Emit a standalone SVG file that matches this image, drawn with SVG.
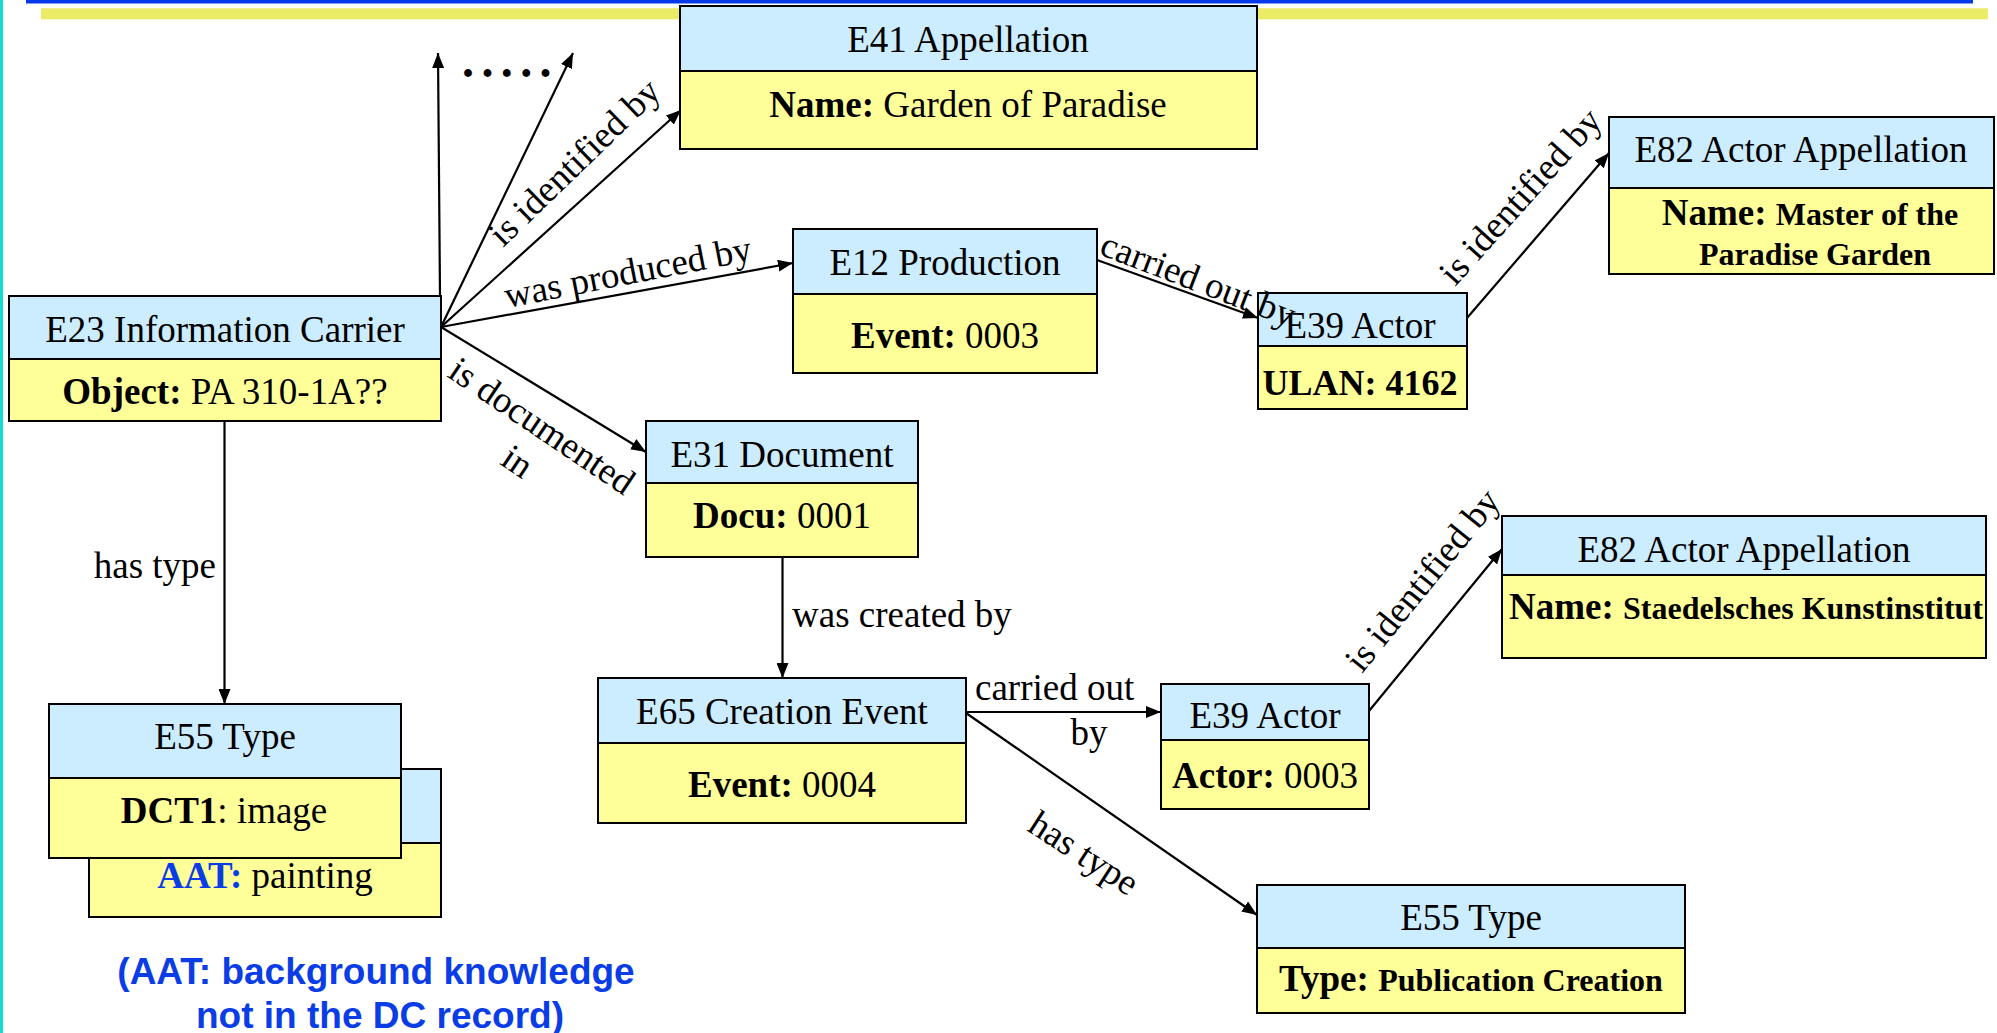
<svg xmlns="http://www.w3.org/2000/svg" width="1997" height="1033" viewBox="0 0 1997 1033">
<style>
text{font-family:"Liberation Serif","Times New Roman",serif;font-size:37px;fill:#000}
.t{text-anchor:middle}
.b{font-weight:bold}
.bs{font-weight:bold;font-size:32px}
.hd{fill:#CCECFF;stroke:#000;stroke-width:2}
.bd{fill:#FFFF99;stroke:#000;stroke-width:2}
.ln{stroke:#000;stroke-width:2.2;fill:none;marker-end:url(#ah)}
.note{font-family:"Liberation Sans",Arial,sans-serif;font-weight:bold;fill:#0B3DE6;text-anchor:middle}
.blue{fill:#0B3DE6;font-weight:bold}
</style>
<defs>
<marker id="ah" markerUnits="userSpaceOnUse" markerWidth="16" markerHeight="12" refX="15" refY="6" orient="auto">
<path d="M0,0 L15,6 L0,12 z" fill="#000"/>
</marker>
</defs>
<rect x="0" y="0" width="1997" height="1033" fill="#fff"/>
<rect x="0" y="0" width="3" height="1033" fill="#12DCCF"/>
<rect x="26" y="0" width="1947" height="3.5" fill="#0538E8"/>
<rect x="41" y="8.3" width="1947" height="11" fill="#EBEB66"/>

<g id="connectors">
<line class="ln" x1="440" y1="296" x2="438" y2="53"/>
<line class="ln" x1="441" y1="327" x2="573" y2="53"/>
<line class="ln" x1="441" y1="327" x2="681" y2="110"/>
<line class="ln" x1="441" y1="327" x2="793" y2="263"/>
<line class="ln" x1="441" y1="327" x2="646" y2="452"/>
<line class="ln" x1="224.5" y1="421" x2="224.5" y2="704"/>
<line class="ln" x1="1097" y1="260" x2="1258" y2="318"/>
<line class="ln" x1="1467" y1="318" x2="1609" y2="153"/>
<line class="ln" x1="782.5" y1="557" x2="782.5" y2="678"/>
<line class="ln" x1="966" y1="712" x2="1161" y2="712"/>
<line class="ln" x1="1369" y1="711" x2="1502" y2="549"/>
<line class="ln" x1="966" y1="713" x2="1257" y2="915"/>
</g>

<g id="e23">
<rect class="hd" x="9" y="296" width="432" height="63"/>
<rect class="bd" x="9" y="359" width="432" height="62"/>
<text class="t" x="225" y="342">E23 Information Carrier</text>
<text class="t" x="225" y="404"><tspan class="b">Object:</tspan> PA 310-1A??</text>
</g>
<g id="e41">
<rect class="hd" x="680" y="6" width="577" height="65"/>
<rect class="bd" x="680" y="71" width="577" height="78"/>
<text class="t" x="968" y="52">E41 Appellation</text>
<text class="t" x="968" y="117"><tspan class="b">Name:</tspan> Garden of Paradise</text>
</g>
<g id="e12">
<rect class="hd" x="793" y="229" width="304" height="65"/>
<rect class="bd" x="793" y="294" width="304" height="79"/>
<text class="t" x="945" y="275">E12 Production</text>
<text class="t" x="945" y="348"><tspan class="b">Event:</tspan> 0003</text>
</g>
<g id="e39a">
<rect class="hd" x="1258" y="293" width="209" height="53"/>
<rect class="bd" x="1258" y="346" width="209" height="63"/>
<text class="t" x="1360" y="338">E39 Actor</text>
<text class="t b" x="1360" y="395" style="font-size:36px">ULAN: 4162</text>
</g>
<g id="e82a">
<rect class="hd" x="1609" y="117" width="385" height="71"/>
<rect class="bd" x="1609" y="188" width="385" height="86"/>
<text class="t" x="1801" y="162">E82 Actor Appellation</text>
<text class="t" x="1810" y="225"><tspan class="b">Name:</tspan> <tspan class="bs">Master of the</tspan></text>
<text class="t bs" x="1815" y="265">Paradise Garden</text>
</g>
<g id="e31">
<rect class="hd" x="646" y="421" width="272" height="62"/>
<rect class="bd" x="646" y="483" width="272" height="74"/>
<text class="t" x="782" y="467">E31 Document</text>
<text class="t" x="782" y="528"><tspan class="b">Docu:</tspan> 0001</text>
</g>
<g id="e65">
<rect class="hd" x="598" y="678" width="368" height="65"/>
<rect class="bd" x="598" y="743" width="368" height="80"/>
<text class="t" x="782" y="724">E65 Creation Event</text>
<text class="t" x="782" y="797"><tspan class="b">Event:</tspan> 0004</text>
</g>
<g id="e39b">
<rect class="hd" x="1161" y="684" width="208" height="56"/>
<rect class="bd" x="1161" y="740" width="208" height="69"/>
<text class="t" x="1265" y="728">E39 Actor</text>
<text class="t" x="1265" y="788"><tspan class="b">Actor:</tspan> 0003</text>
</g>
<g id="e82b">
<rect class="hd" x="1502" y="516" width="484" height="59"/>
<rect class="bd" x="1502" y="575" width="484" height="83"/>
<text class="t" x="1744" y="562">E82 Actor Appellation</text>
<text class="t" x="1746" y="619"><tspan class="b">Name:</tspan> <tspan class="bs">Staedelsches Kunstinstitut</tspan></text>
</g>
<g id="e55b">
<rect class="hd" x="1257" y="885" width="428" height="63"/>
<rect class="bd" x="1257" y="948" width="428" height="65"/>
<text class="t" x="1471" y="930">E55 Type</text>
<text class="t" x="1471" y="991"><tspan class="b">Type:</tspan> <tspan class="bs">Publication Creation</tspan></text>
</g>
<g id="e55-aat">
<rect class="hd" x="89" y="769" width="352" height="74"/>
<rect class="bd" x="89" y="843" width="352" height="74"/>
<text class="t" x="265" y="888"><tspan class="blue">AAT:</tspan> painting</text>
</g>
<g id="e55-dct">
<rect class="hd" x="49" y="704" width="352" height="74"/>
<rect class="bd" x="49" y="778" width="352" height="80"/>
<text class="t" x="225" y="749">E55 Type</text>
<text class="t" x="224" y="823"><tspan class="b">DCT1</tspan>: image</text>
</g>

<g id="connector-labels">
<text class="b" x="462" y="77" style="font-size:48px;letter-spacing:7.4px">.....</text>
<text transform="translate(503,248) rotate(-44)">is identified by</text>
<text transform="translate(507,308) rotate(-11)">was produced by</text>
<g transform="translate(446,376) rotate(34)">
<text x="0" y="0">is documented</text>
<text x="107" y="43" class="t">in</text>
</g>
<text x="216" y="578" style="text-anchor:end">has type</text>
<text transform="translate(1098,254) rotate(21)">carried out by</text>
<text transform="translate(1455,287) rotate(-48)">is identified by</text>
<text x="792" y="627">was created by</text>
<text x="975" y="700">carried out</text>
<text x="1089" y="745" class="t">by</text>
<text transform="translate(1362,674) rotate(-51)">is identified by</text>
<text transform="translate(1026,830) rotate(33)">has type</text>
</g>

<g id="note">
<text class="note" x="376" y="984">(AAT: background knowledge</text>
<text class="note" x="380" y="1028">not in the DC record)</text>
</g>
</svg>
